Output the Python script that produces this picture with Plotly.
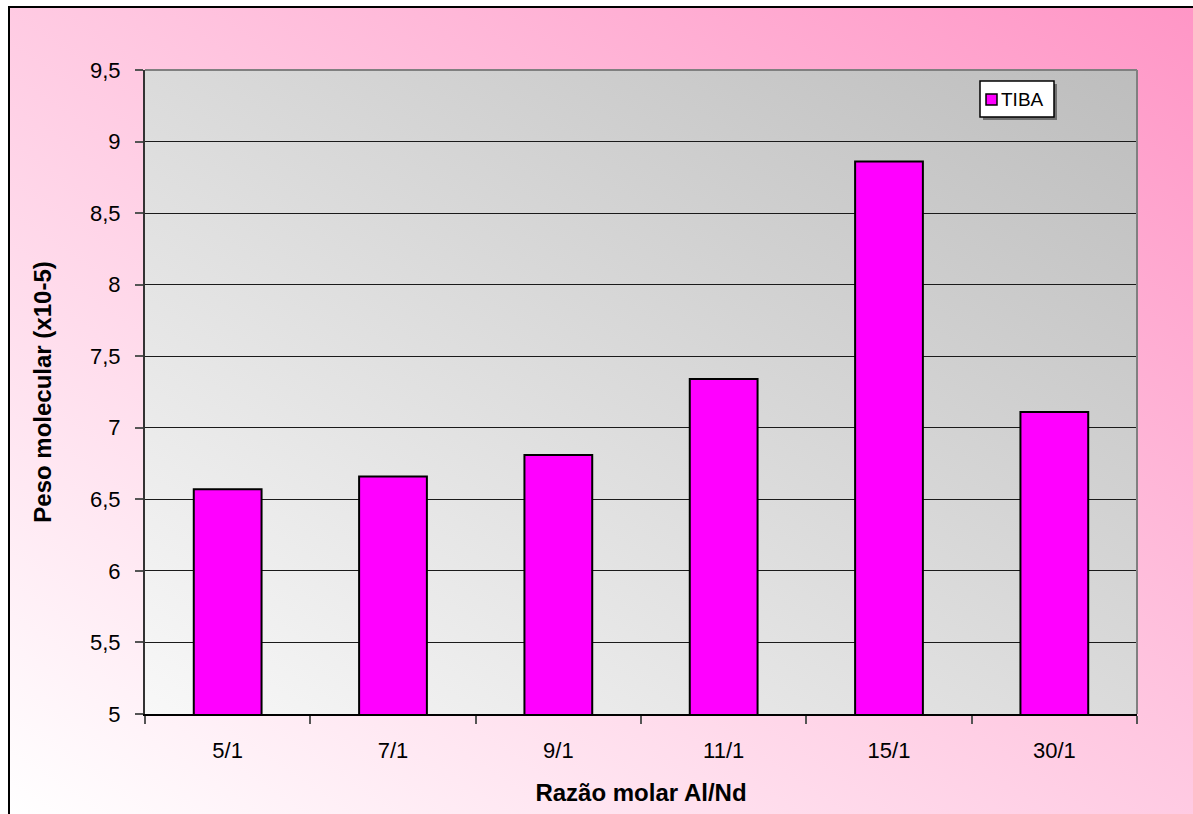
import base64
import plotly.graph_objects as go

# Molecular weight (x10^-5) versus Al/Nd molar ratio, TIBA cocatalyst
ratios = ["5/1", "7/1", "9/1", "11/1", "15/1", "30/1"]
peso_molecular = [6.57, 6.66, 6.81, 7.34, 8.86, 7.11]
y_ticks = [5, 5.5, 6, 6.5, 7, 7.5, 8, 8.5, 9, 9.5]
y_tick_text = ["5", "5,5", "6", "6,5", "7", "7,5", "8", "8,5", "9", "9,5"]
series_name = "TIBA"

W, H = 1193, 814
L, R, T, B = 145, 1137, 70, 714  # plot area in pixels
PW, PH = R - L, B - T


def px(x):
    return (x - L) / PW


def py(y):
    return 1 - (y - T) / PH


def gradient_uri(c0, c1):
    svg = (
        '<svg xmlns="http://www.w3.org/2000/svg" width="200" height="200" '
        'viewBox="0 0 200 200" preserveAspectRatio="none">'
        '<defs><linearGradient id="g" x1="0" y1="1" x2="1" y2="0">'
        f'<stop offset="0" stop-color="{c0}"/><stop offset="1" stop-color="{c1}"/>'
        '</linearGradient></defs>'
        '<rect width="200" height="200" fill="url(#g)"/></svg>'
    )
    return "data:image/svg+xml;base64," + base64.b64encode(svg.encode()).decode()


font = "Liberation Sans, Arial, sans-serif"

fig = go.Figure(
    go.Bar(
        x=ratios,
        y=peso_molecular,
        name=series_name,
        width=0.41,
        marker=dict(color="#ff00ff", line=dict(color="#000000", width=2)),
        showlegend=False,
    )
)

fig.update_layout(
    width=W,
    height=H,
    margin=dict(l=L, r=W - R, t=T, b=H - B, pad=0),
    paper_bgcolor="#ffffff",
    plot_bgcolor="rgba(0,0,0,0)",
    font=dict(family=font, size=22, color="#000000"),
    images=[
        dict(
            source=gradient_uri("#ffffff", "#ff96c6"),
            xref="paper", yref="paper",
            x=px(9), y=py(7), sizex=(W - 9) / PW, sizey=(H - 7) / PH,
            xanchor="left", yanchor="top", sizing="stretch", layer="below",
        ),
        dict(
            source=gradient_uri("#f8f8f8", "#bdbdbd"),
            xref="paper", yref="paper",
            x=0, y=1, sizex=1, sizey=1,
            xanchor="left", yanchor="top", sizing="stretch", layer="below",
        ),
    ],
    xaxis=dict(
        type="category",
        tickson="boundaries",
        ticks="outside",
        ticklen=8,
        tickwidth=1.5,
        tickcolor="#555555",
        showgrid=False,
        showline=True,
        linecolor="#000000",
        linewidth=2,
        ticklabelstandoff=16,
        tickfont=dict(size=22),
        title=dict(text="<b>Razão molar Al/Nd</b>", font=dict(size=24), standoff=22),
    ),
    yaxis=dict(
        range=[5, 9.5],
        tickvals=y_ticks,
        ticktext=y_tick_text,
        ticks="outside",
        ticklen=8,
        tickwidth=1.5,
        tickcolor="#555555",
        showgrid=True,
        gridcolor="#1a1a1a",
        gridwidth=1,
        zeroline=False,
        showline=True,
        linecolor="#333333",
        linewidth=2,
        ticklabelstandoff=10,
        tickfont=dict(size=22),
        title=dict(text="<b>Peso molecular (x10-5)</b>", font=dict(size=24), standoff=32),
    ),
    shapes=[
        # outer frame
        dict(type="rect", xref="paper", yref="paper",
             x0=px(9), y0=py(H + 20), x1=px(W + 20), y1=py(7),
             line=dict(color="#000000", width=2), layer="above"),
        # top and right plot border
        dict(type="line", xref="paper", yref="paper", x0=0, y0=1, x1=1, y1=1,
             line=dict(color="#808080", width=2), layer="above"),
        dict(type="line", xref="paper", yref="paper", x0=1, y0=0, x1=1, y1=1,
             line=dict(color="#808080", width=2), layer="above"),
        # legend box shadow and box
        dict(type="rect", xref="paper", yref="paper",
             x0=px(983), y0=py(120), x1=px(1057), y1=py(84),
             line=dict(width=0), fillcolor="#707070", layer="above"),
        dict(type="rect", xref="paper", yref="paper",
             x0=px(980), y0=py(117), x1=px(1054), y1=py(81),
             line=dict(color="#000000", width=1.5), fillcolor="#ffffff", layer="above"),
        dict(type="rect", xref="paper", yref="paper",
             x0=px(986), y0=py(105), x1=px(997), y1=py(94),
             line=dict(color="#000000", width=1.5), fillcolor="#ff00ff", layer="above"),
    ],
    annotations=[
        dict(text=series_name, xref="paper", yref="paper",
             x=px(999), y=py(99.5), xanchor="left", yanchor="middle",
             showarrow=False, font=dict(size=19)),
    ],
)

fig.write_html("out.html")
